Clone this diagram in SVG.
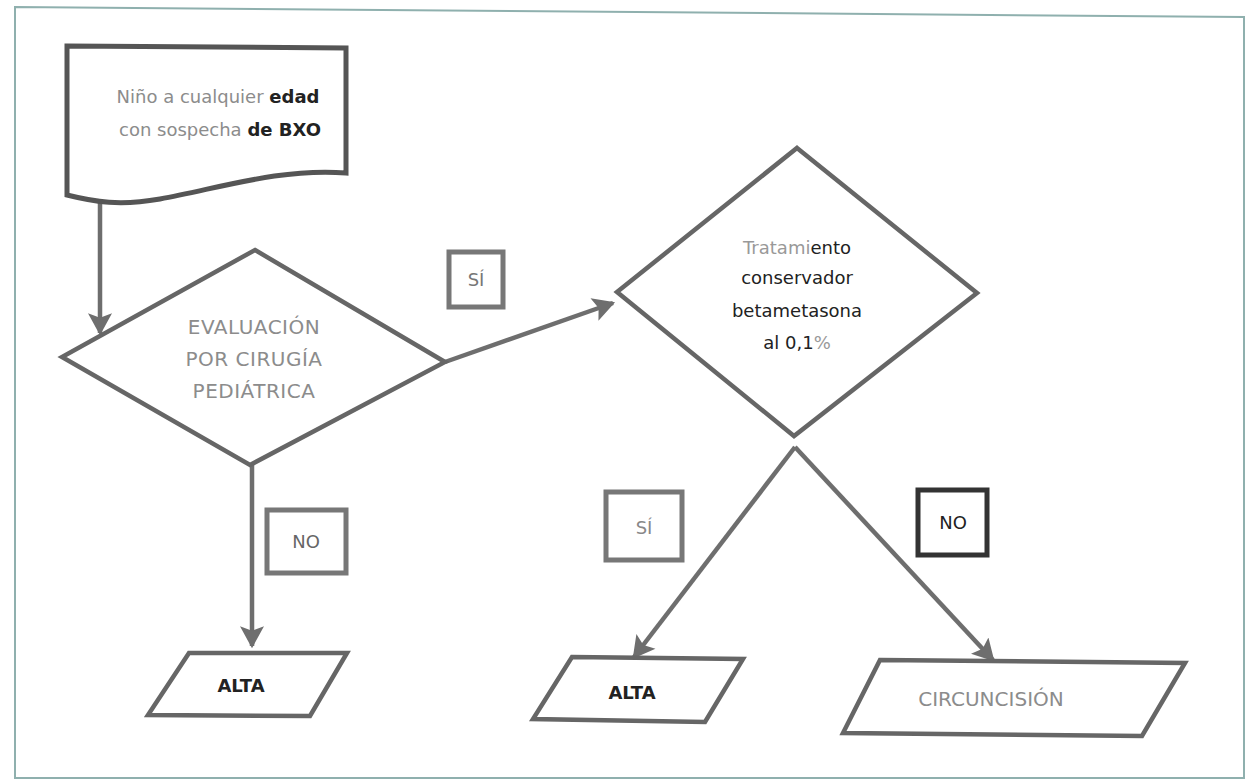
<svg xmlns="http://www.w3.org/2000/svg" width="1252" height="784" viewBox="0 0 1252 784">
  <style>
    .frame { fill: none; stroke: #8fb0ae; stroke-width: 2; }
    .shape { fill: #ffffff; stroke: #666666; stroke-width: 4.5; stroke-linejoin: miter; }
    .doc { fill: #ffffff; stroke: #555555; stroke-width: 5; }
    .tag { fill: #ffffff; stroke: #777777; stroke-width: 5; }
    .tag-dark { fill: #ffffff; stroke: #333333; stroke-width: 5; }
    .edge { fill: none; stroke: #6e6e6e; stroke-width: 4.5; }
    text { font-family: "DejaVu Sans", "Liberation Sans", sans-serif; text-anchor: middle; }
    .grey { fill: #8c8c8c; }
    .dark { fill: #222222; }
    .lbl { font-size: 18px; }
    .big { font-size: 20px; }
    .bold { font-weight: bold; }
  </style>
  <defs>
    <marker id="arrow" markerUnits="userSpaceOnUse" markerWidth="24" markerHeight="24" viewBox="0 0 20 22" refX="18" refY="11" orient="auto">
      <path d="M0,0 L20,11 L0,22 L4,11 z" fill="#6e6e6e"/>
    </marker>
  </defs>

  <!-- outer frame -->
  <path class="frame" d="M15,7 L1244,17 L1244,778 L15,778 Z"/>

  <!-- connectors -->
  <g id="connectors">
    <line class="edge" x1="100" y1="203" x2="100" y2="333" marker-end="url(#arrow)"/>
    <line class="edge" x1="445" y1="362" x2="613" y2="303" marker-end="url(#arrow)"/>
    <line class="edge" x1="252" y1="465" x2="252" y2="646" marker-end="url(#arrow)"/>
    <line class="edge" x1="795" y1="447" x2="634" y2="657" marker-end="url(#arrow)"/>
    <line class="edge" x1="795" y1="447" x2="993" y2="660" marker-end="url(#arrow)"/>
  </g>

  <!-- start document -->
  <g id="node-inicio">
    <path class="doc" d="M67,46 L346,48 L346,173 C280,168 220,188 160,199 C120,206 95,202 67,195 Z"/>
    <text class="lbl" x="218" y="103"><tspan class="grey">Niño a cualquier </tspan><tspan class="dark bold">edad</tspan></text>
    <text class="lbl" x="220" y="136"><tspan class="grey">con sospecha </tspan><tspan class="dark bold">de BXO</tspan></text>
  </g>

  <!-- decision: surgical evaluation -->
  <g id="node-evaluacion">
    <polygon class="shape" points="255,250 445,362 250,465 62,357"/>
    <text class="big grey" x="254" y="334" letter-spacing="0.5">EVALUACIÓN</text>
    <text class="big grey" x="254" y="366" letter-spacing="0.5">POR CIRUGÍA</text>
    <text class="big grey" x="254" y="398" letter-spacing="0.5">PEDIÁTRICA</text>
  </g>

  <!-- decision: conservative treatment -->
  <g id="node-tratamiento">
    <polygon class="shape" points="797,148 977,293 794,436 617,292"/>
    <text class="lbl" x="797" y="254"><tspan fill="#999999">Tratami</tspan><tspan class="dark">ento</tspan></text>
    <text class="lbl dark" x="797" y="284">conservador</text>
    <text class="lbl dark" x="797" y="317">betametasona</text>
    <text class="lbl" x="797" y="349"><tspan class="dark">al 0,1</tspan><tspan fill="#999999">%</tspan></text>
  </g>

  <!-- branch labels -->
  <g id="tag-si-1">
    <rect class="tag" x="449" y="252" width="54" height="55"/>
    <text class="lbl" x="476" y="286" fill="#777777">SÍ</text>
  </g>
  <g id="tag-no-1">
    <rect class="tag" x="267" y="510" width="79" height="63"/>
    <text class="lbl" x="306" y="548" fill="#666666">NO</text>
  </g>
  <g id="tag-si-2">
    <rect class="tag" x="606" y="492" width="76" height="68"/>
    <text class="lbl" x="644" y="534" fill="#888888">SÍ</text>
  </g>
  <g id="tag-no-2">
    <rect class="tag-dark" x="918" y="490" width="69" height="65"/>
    <text class="lbl" x="953" y="529" fill="#222222">NO</text>
  </g>

  <!-- outcomes -->
  <g id="node-alta-1">
    <polygon class="shape" points="189,653 347,653 310,716 148,715"/>
    <text class="lbl bold dark" x="241" y="692">ALTA</text>
  </g>
  <g id="node-alta-2">
    <polygon class="shape" points="572,657 743,659 705,722 533,719"/>
    <text class="lbl bold dark" x="632" y="699">ALTA</text>
  </g>
  <g id="node-circuncision">
    <polygon class="shape" points="880,660 1185,663 1142,736 843,733"/>
    <text class="big grey" x="991" y="706">CIRCUNCISIÓN</text>
  </g>
</svg>
